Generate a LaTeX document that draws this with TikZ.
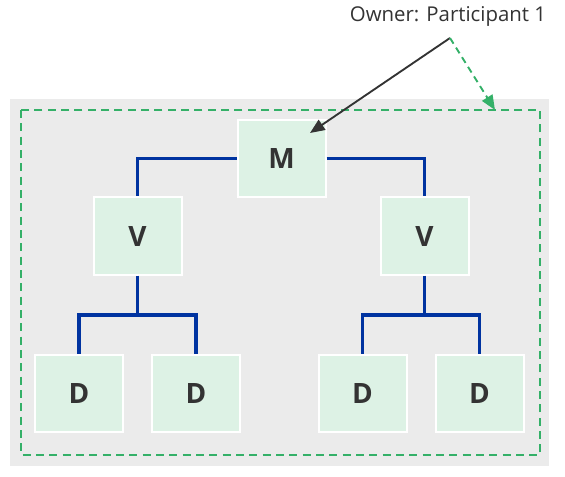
\documentclass[tikz,border=0pt]{standalone}
\usepackage{fontspec}
\setmainfont{Open Sans}
\usepackage{tikz}
\usetikzlibrary{arrows.meta}
\definecolor{bggray}{RGB}{235,235,235}
\definecolor{boxgreen}{RGB}{221,242,229}
\definecolor{ownergreen}{RGB}{52,176,104}
\definecolor{treeblue}{RGB}{0,51,160}
\definecolor{txtdark}{RGB}{51,51,51}
\tikzset{
  unitbox/.style={draw=white, line width=1.5pt, fill=boxgreen, minimum width=66pt, minimum height=58pt, inner sep=0pt, text=txtdark, font=\fontsize{21}{24}\selectfont\bfseries},
  treeline/.style={draw=treeblue, line width=2.3pt},
}
\begin{document}
\begin{tikzpicture}[x=0.75pt,y=0.75pt,yscale=-1,xscale=1]
\useasboundingbox (0,0) rectangle (565,476);

%Background [id:bg]
\fill [bggray] (10,99) rectangle (549,466);
%Owner region [id:owner]
\draw [ownergreen, line width=1.5pt, dash pattern={on 6pt off 4pt}] (21,110) rectangle (540,455);

% Unit Nodes
\node [unitbox] (m) at (281.5,158.5) {M};
\node [unitbox] (vl) at (137.5,236) {V};
\node [unitbox] (vr) at (424.5,236) {V};
\node [unitbox] (d1) at (79,393.5) {D};
\node [unitbox] (d2) at (196,393.5) {D};
\node [unitbox] (d3) at (362.5,393.5) {D};
\node [unitbox] (d4) at (479.5,393.5) {D};

%Tree Lines
\draw [treeline] (m.west) -| (vl.north);
\draw [treeline] (m.east) -| (vr.north);
\coordinate (jl) at (137.5,315);
\coordinate (jr) at (424.5,315);
\draw [treeline] (vl.south) -- (jl);
\draw [treeline] (vr.south) -- (jr);
\draw [treeline] (d1.north) |- (jl) -| (d2.north);
\draw [treeline] (d3.north) |- (jr) -| (d4.north);

% Text Node
\node [text=txtdark, font=\fontsize{15.3}{18}\selectfont, anchor=south] (lbl) at (448,31) {Owner: Participant 1};
\coordinate (tip) at (450,38);
\coordinate (mtip) at (310,133);
\coordinate (otip) at (495,110);

%Straight Lines [id:arrows]
\draw [txtdark, line width=1.4pt, -{Triangle[length=11pt,width=9pt]}] (tip) -- (mtip);
\draw [ownergreen, line width=1.4pt, dash pattern={on 5pt off 3.5pt}, -{Triangle[length=11pt,width=9pt]}] (tip) -- (otip);
\end{tikzpicture}
\end{document}
